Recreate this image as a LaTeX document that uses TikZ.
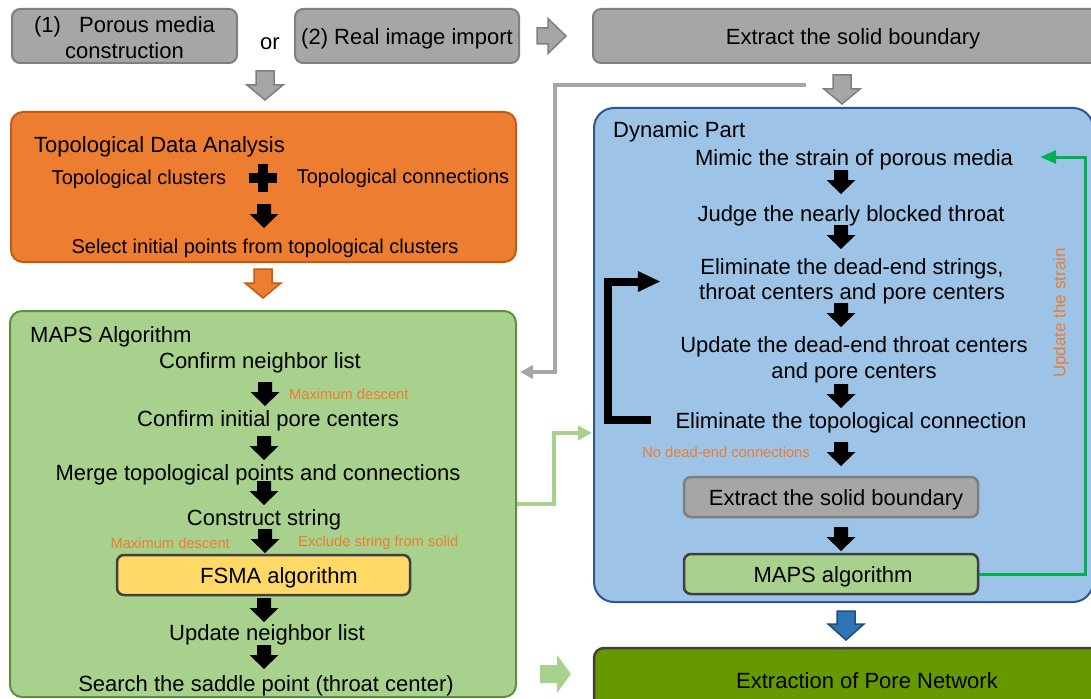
\documentclass[tikz,border=0pt]{standalone}
\usepackage{fontspec}
\setmainfont{Liberation Sans}
\usepackage{xcolor}
\usepackage{tikz}
\usetikzlibrary{positioning, arrows.meta}

\definecolor{boxgray}{HTML}{A6A6A6}
\definecolor{linegray}{HTML}{7F7F7F}
\definecolor{tdaorange}{HTML}{ED7D31}
\definecolor{tdaedge}{HTML}{C55A11}
\definecolor{mapsgreen}{HTML}{A9D18E}
\definecolor{mapsedge}{HTML}{5E8F3C}
\definecolor{dynblue}{HTML}{9DC3E6}
\definecolor{dynedge}{HTML}{2F5597}
\definecolor{fsmayellow}{HTML}{FFD966}
\definecolor{darkedge}{HTML}{404040}
\definecolor{loopgreen}{HTML}{00B050}
\definecolor{porenet}{HTML}{669900}
\definecolor{arrblue}{HTML}{2E75B6}
\definecolor{arrbluedark}{HTML}{1F4E79}

\tikzset{
  txt/.style={inner sep=0pt, font=\fontsize{22}{26}\selectfont},
  oneline/.style={text height=19pt, text depth=2pt},
  subtxt/.style={inner sep=0pt, text height=17.5pt, text depth=2.5pt, font=\fontsize{20}{24}\selectfont},
  note/.style={inner sep=0pt, text=tdaorange, font=\fontsize{14.7}{17}\selectfont},
  panel/.style={rounded corners=12pt, line width=2pt, inner sep=0pt},
  graybox/.style={txt, draw=linegray, fill=boxgray, rounded corners=8pt, line width=2pt, minimum height=54pt},
  stepbox/.style={txt, oneline, draw=darkedge, rounded corners=7pt, line width=2.5pt, minimum width=294pt, minimum height=40pt},
  grayconn/.style={draw=boxgray, line width=3.5pt, -{Triangle[length=13pt, width=13pt]}},
  pics/blockarrow/.style n args={4}{code={
    \path[pic actions] (-#2/2,0) -- (#2/2,0) -- (#2/2,#4) -- (#3/2,#4) -- (0,#1)
      -- (-#3/2,#4) -- (-#2/2,#4) -- cycle;
  }},
  pics/flow/.style={code={
    \path[fill=black] (-7,0) -- (7,0) -- (7,10) -- (14.5,10) -- (0,24)
      -- (-14.5,10) -- (-7,10) -- cycle;
  }},
}

\begin{document}
\begin{tikzpicture}[x=1pt, y=-1pt]
  \useasboundingbox (0,0) rectangle (1091,698);
  \clip (0,0) rectangle (1091,698);

  % inputs
  \node[graybox, align=center, minimum width=225pt] (porous) at (124.5,36) {\rule{0pt}{20pt}(1)\ \ \ Porous media\\construction};
  \node[txt, oneline] (orword) at (270,41) {or};
  \node[graybox, oneline, minimum width=224pt] (realimg) at (407,36) {(2) Real image import};
  \node[graybox, oneline, minimum width=520pt] (solidtop) at (853,36) {Extract the solid boundary};
  \pic[draw=linegray, fill=boxgray, line width=1.5pt, rotate=90] at (537,36) {blockarrow={29}{16}{35}{11}};
  \pic[draw=linegray, fill=boxgray, line width=1.5pt] at (265,71) {blockarrow={29}{18}{36}{14}};
  \pic[draw=linegray, fill=boxgray, line width=1.5pt] at (842,75) {blockarrow={29}{18}{36}{14}};

  % panels
  \node[panel, draw=tdaedge, fill=tdaorange, minimum width=505pt, minimum height=150pt] (tda) at (263.5,187) {};
  \node[panel, draw=mapsedge, fill=mapsgreen, minimum width=506pt, minimum height=386pt] (maps) at (263,504) {};
  \node[panel, rounded corners=20pt, draw=dynedge, fill=dynblue, minimum width=499pt, minimum height=494pt] (dyn) at (843.5,355) {};
  \node[stepbox, fill=porenet, rounded corners=10pt, minimum width=546pt, minimum height=64pt] (network) at (867,680) {Extraction of Pore Network};

  % topological data analysis
  \node[txt, oneline, anchor=west] (tdatitle) at (34,144) {Topological Data Analysis};
  \node[subtxt] (clusters) at (139,177) {Topological clusters};
  \node[subtxt] (connections) at (403,176) {Topological connections};
  \fill (249,173) rectangle (277,183);
  \fill (258,164) rectangle (268,192);
  \pic at (264,204) {flow};
  \node[subtxt] (initial) at (265,246) {Select initial points from topological clusters};
  \pic[draw=tdaedge, fill=tdaorange, line width=1.5pt] at (263,269) {blockarrow={29}{18}{36}{14}};

  % MAPS algorithm
  \node[txt, oneline, anchor=west] (mapstitle) at (30,334) {MAPS Algorithm};
  \node[txt, oneline] (neighbor) at (260,360) {Confirm neighbor list};
  \pic at (265,382) {flow};
  \node[note, anchor=west] (descent1) at (289,394) {Maximum descent};
  \node[txt, oneline] (porecenters) at (268,418) {Confirm initial pore centers};
  \pic at (264,436) {flow};
  \node[txt, oneline] (merge) at (258,472) {Merge topological points and connections};
  \pic at (264,481) {flow};
  \node[txt, oneline] (string) at (264,517) {Construct string};
  \pic at (265,529) {flow};
  \node[note, anchor=east] (descent2) at (230,543) {Maximum descent};
  \node[note, anchor=west] (exclude) at (298,543) {Exclude string from solid};
  \node[stepbox, fill=fsmayellow, minimum width=293pt] (fsma) at (263.5,575) {\hspace*{31pt}FSMA algorithm};
  \pic at (264,598) {flow};
  \node[txt, oneline] (update) at (267,632) {Update neighbor list};
  \pic at (264,645) {flow};
  \node[txt, oneline] (saddle) at (266,683) {Search the saddle point (throat center)};

  % dynamic part
  \node[txt, oneline, anchor=west] (dyntitle) at (613,129) {Dynamic Part};
  \node[txt, oneline] (mimic) at (854,157) {Mimic the strain of porous media};
  \pic at (841,170) {flow};
  \node[txt, oneline] (judge) at (851,213) {Judge the nearly blocked throat};
  \pic at (841,225) {flow};
  \node[txt, align=center, font=\fontsize{22}{25}\selectfont] (deadend) at (852,281.5) {Eliminate the dead-end strings,\\throat centers and pore centers};
  \pic at (841,303) {flow};
  \node[txt, align=center] (updatedead) at (854,360) {Update the dead-end throat centers\\and pore centers};
  \pic at (841,384) {flow};
  \node[txt, oneline] (elimconn) at (851,420) {Eliminate the topological connection};
  \node[note, anchor=east] (nodead) at (810,452) {No dead-end connections};
  \pic at (841,442) {flow};
  \node[stepbox, draw=linegray, fill=boxgray] (solidin) at (831,497) {\hspace*{10pt}Extract the solid boundary};
  \pic at (841,527) {flow};
  \node[stepbox, fill=mapsgreen] (mapsalg) at (831,574) {\hspace*{4pt}MAPS algorithm};
  \node[note, rotate=90, font=\fontsize{17}{20}\selectfont] (strainlbl) at (1061,313) {Update the strain};
  \pic[draw=arrbluedark, fill=arrblue, line width=1.5pt] at (846,611) {blockarrow={29}{18}{36}{13}};
  \pic[fill=mapsgreen, rotate=90] at (540,674) {blockarrow={31}{18}{38}{17}};

  % connectors
  \coordinate (grayfrom) at (806,85);
  \coordinate (graytip) at (520,372);
  \draw[grayconn] (grayfrom) -- ++(-251,0) |- (graytip);
  \coordinate (lgtip) at (592,433);
  \draw[draw=mapsgreen, line width=3.5pt, -{Triangle[length=14pt, width=14pt]}] (maps.east) -- ++(37,0) |- (lgtip);
  \draw[draw=loopgreen, line width=3pt, -{Triangle[length=16pt, width=13pt]}] (mapsalg.east) -- ++(106,0) |- ([xshift=27pt]mimic.east);
  \draw[line width=8pt, -{Triangle[length=22pt, width=21pt, line width=0pt]}] ([xshift=-24pt]elimconn.west) -- ++(-43,0) |- ([xshift=-39pt]deadend.west);
\end{tikzpicture}
\end{document}
